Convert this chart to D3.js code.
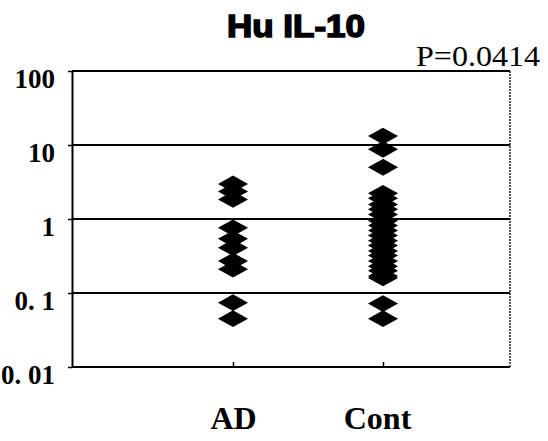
<!DOCTYPE html>
<html>
<head>
<meta charset="utf-8">
<script src="https://cdn.jsdelivr.net/npm/d3@7"></script>
<style>
  body { margin: 0; background: #fff; }
  svg { display: block; }
</style>
</head>
<body>
<div id="vis"></div>
<script>
// data
const GROUPS = ["AD", "Cont"];
const AD_VALUES = [2.98, 2.36, 1.84, 0.76, 0.54, 0.41, 0.27, 0.21, 0.074, 0.045];
const CONT_VALUES = [13.2, 8.75, 5.0, 2.22, 1.90, 1.57, 1.35, 1.15, 0.95, 0.82, 0.70,
                     0.60, 0.51, 0.44, 0.37, 0.32, 0.27, 0.23, 0.20, 0.17, 0.16, 0.072, 0.045];
const Y_TICKS = [100, 10, 1, 0.1, 0.01];
const Y_TICK_LABELS = ["100", "10", "1", "0. 1", "0. 01"];
const GRID_VALUES = [10, 1, 0.1];
const TITLE = "Hu IL-10";
const P_LABEL = "P=0.0414";

// frame
const FRAME_WIDTH = 548;
const FRAME_HEIGHT = 441;
const MARGINS = {left: 72, right: 38, top: 71, bottom: 74};
const VIS_WIDTH = FRAME_WIDTH - MARGINS.left - MARGINS.right;
const VIS_HEIGHT = FRAME_HEIGHT - MARGINS.top - MARGINS.bottom;

const FRAME = d3.select("#vis")
                .append("svg")
                  .attr("width", FRAME_WIDTH)
                  .attr("height", FRAME_HEIGHT);

// scales
const X_SCALE = d3.scalePoint()
                  .domain(GROUPS)
                  .range([161, 311]);

const Y_SCALE = d3.scaleLog()
                  .domain([0.01, 100])
                  .range([VIS_HEIGHT, 0]);

const G = FRAME.append("g")
               .attr("transform", "translate(" + MARGINS.left + "," + MARGINS.top + ")");

// horizontal lines at 10, 1, 0.1
G.selectAll(".grid")
  .data(GRID_VALUES)
  .enter()
  .append("line")
    .attr("x1", 0)
    .attr("x2", VIS_WIDTH)
    .attr("y1", (d) => Y_SCALE(d))
    .attr("y2", (d) => Y_SCALE(d))
    .attr("stroke", "#000")
    .attr("stroke-width", 2);

// frame: top and bottom solid, right edge dotted like the scan
G.append("line")
  .attr("x1", 0).attr("x2", VIS_WIDTH)
  .attr("y1", 0).attr("y2", 0)
  .attr("stroke", "#000").attr("stroke-width", 2);
G.append("line")
  .attr("x1", 0).attr("x2", VIS_WIDTH)
  .attr("y1", VIS_HEIGHT).attr("y2", VIS_HEIGHT)
  .attr("stroke", "#000").attr("stroke-width", 2);
G.append("line")
  .attr("x1", VIS_WIDTH).attr("x2", VIS_WIDTH)
  .attr("y1", 0).attr("y2", VIS_HEIGHT)
  .attr("stroke", "#000").attr("stroke-width", 1.3)
  .attr("stroke-dasharray", "2,1");

// y axis
const yAxis = G.append("g")
  .call(d3.axisLeft(Y_SCALE)
          .tickValues(Y_TICKS)
          .tickFormat((d, i) => Y_TICK_LABELS[i])
          .tickSize(4)
          .tickSizeOuter(0)
          .tickPadding(13));
yAxis.select(".domain").attr("stroke-width", 2);
yAxis.selectAll(".tick line").attr("stroke-width", 1.5);
yAxis.selectAll("text")
  .attr("font-family", "'Liberation Serif', 'Times New Roman', serif")
  .attr("font-weight", "bold")
  .attr("font-size", "27px")
  .attr("fill", "#000")
  .attr("dy", "0.6em");

// x axis, ticks pointing inward
const xAxis = G.append("g")
  .attr("transform", "translate(0," + VIS_HEIGHT + ")")
  .call(d3.axisBottom(X_SCALE)
          .tickSize(-5)
          .tickSizeOuter(0)
          .tickPadding(39));
xAxis.select(".domain").remove();
xAxis.selectAll(".tick line").attr("stroke-width", 1.5);
xAxis.selectAll("text")
  .attr("font-family", "'Liberation Serif', 'Times New Roman', serif")
  .attr("font-weight", "bold")
  .attr("font-size", "32px")
  .attr("fill", "#000")
  .attr("dx", (d) => d === "Cont" ? -6 : 0);

// diamonds
const DIAMOND = "M0,-7.5L13.5,0L0,7.5L-13.5,0Z";
const points = [];
AD_VALUES.forEach((v) => points.push({group: "AD", value: v}));
CONT_VALUES.forEach((v) => points.push({group: "Cont", value: v}));

G.selectAll(".pt")
  .data(points)
  .enter()
  .append("path")
    .attr("class", "pt")
    .attr("d", DIAMOND)
    .attr("transform", (d) => "translate(" + X_SCALE(d.group) + "," + Y_SCALE(d.value) + ")")
    .attr("fill", "#000")
    .attr("stroke", "#000")
    .attr("stroke-width", 1.5);

// title and p-value
FRAME.append("text")
  .attr("x", 296)
  .attr("y", 37)
  .attr("text-anchor", "middle")
  .attr("font-family", "'Liberation Sans', Arial, sans-serif")
  .attr("font-weight", "bold")
  .attr("font-size", "32px")
  .attr("stroke", "#000")
  .attr("stroke-width", 1.6)
  .attr("textLength", 138)
  .attr("lengthAdjust", "spacingAndGlyphs")
  .text(TITLE);

FRAME.append("text")
  .attr("x", 416)
  .attr("y", 66)
  .attr("font-family", "'Liberation Serif', 'Times New Roman', serif")
  .attr("font-size", "30px")
  .attr("textLength", 124)
  .attr("lengthAdjust", "spacingAndGlyphs")
  .text(P_LABEL);
</script>
</body>
</html>
